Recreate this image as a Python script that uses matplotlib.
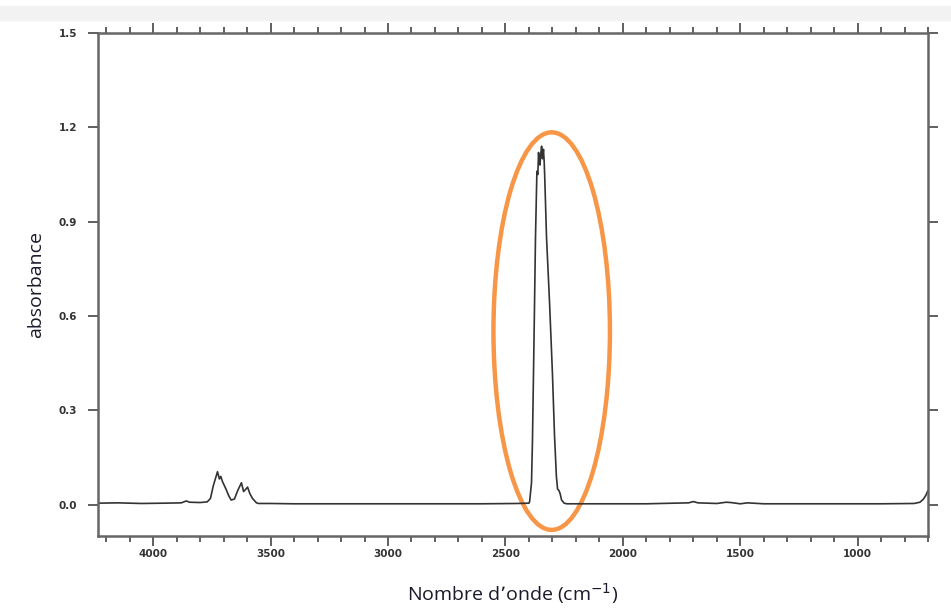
import matplotlib
matplotlib.use('Agg')
import matplotlib.pyplot as plt
from matplotlib.patches import Ellipse, Rectangle
from matplotlib.ticker import MultipleLocator

# spectre IR (nombre d'onde en cm-1, absorbance)
wavenumber = [4235, 4150, 4050, 3950, 3880, 3859, 3845, 3800, 3770, 3756,
              3744, 3726, 3718, 3712, 3705, 3690, 3679, 3668, 3654, 3640,
              3624, 3615, 3607, 3598, 3588, 3577, 3560, 3551, 3500, 3400,
              3000, 2600, 2450, 2400, 2397, 2389, 2385, 2378, 2372, 2366,
              2362, 2359, 2356, 2353, 2349, 2346, 2342, 2338, 2335, 2333,
              2325, 2312, 2300, 2291, 2283, 2278, 2272, 2267, 2261, 2250,
              2239, 2150, 1900, 1720, 1700, 1680, 1600, 1560, 1540, 1500,
              1470, 1400, 1200, 900, 760, 735, 720, 710, 701, 690]
absorbance = [0.005, 0.006, 0.004, 0.005, 0.006, 0.012, 0.008, 0.007, 0.009, 0.02,
              0.06, 0.105, 0.082, 0.09, 0.074, 0.05, 0.03, 0.015, 0.018, 0.045,
              0.07, 0.042, 0.048, 0.056, 0.035, 0.02, 0.006, 0.004, 0.004, 0.003,
              0.003, 0.003, 0.004, 0.005, 0.01, 0.07, 0.2, 0.54, 0.85, 1.06,
              1.05, 1.12, 1.09, 1.08, 1.12, 1.14, 1.10, 1.13, 1.09, 1.05,
              0.85, 0.64, 0.42, 0.22, 0.09, 0.05, 0.045, 0.035, 0.015, 0.005,
              0.003, 0.003, 0.003, 0.006, 0.01, 0.006, 0.004, 0.008, 0.007, 0.003,
              0.006, 0.003, 0.003, 0.003, 0.004, 0.008, 0.018, 0.03, 0.045, 0.05]

x_major = [4000, 3500, 3000, 2500, 2000, 1500, 1000]
y_major = [0.0, 0.3, 0.6, 0.9, 1.2, 1.5]

fig = plt.figure(figsize=(9.51, 6.10), dpi=100)
fig.patches.append(Rectangle((0, 0.968), 1, 0.022, transform=fig.transFigure,
                             color='#f2f2f2', zorder=0))
ax = fig.add_axes([0.103, 0.121, 0.873, 0.825])

ax.plot(wavenumber, absorbance, color='#333333', linewidth=1.2)

ax.set_xlim(4235, 700)
ax.set_ylim(-0.1, 1.5)
ax.set_xticks(x_major)
ax.set_yticks(y_major)
ax.set_yticklabels([f'{v:.1f}' for v in y_major])
ax.xaxis.set_minor_locator(MultipleLocator(100))

for s in ax.spines.values():
    s.set_color('#666666')
    s.set_linewidth(1.8)

ax.tick_params(which='both', direction='out', top=True, right=True,
               color='#444444', width=1.2, labelsize=7.5, labelcolor='#333333')
ax.tick_params(which='major', length=7)
ax.tick_params(which='minor', length=4)
ax.tick_params(axis='y', pad=8)
ax.tick_params(axis='x', pad=2)
for lab in ax.get_xticklabels() + ax.get_yticklabels():
    lab.set_fontweight('bold')

# ellipse orange autour du pic du CO2
ax.add_patch(Ellipse((2303, 0.552), 496, 1.264, fill=False,
                     edgecolor='#f79646', linewidth=3.2, clip_on=False))

ax.set_xlabel("Nombre d\u2019onde (cm$^{-1}$)", fontsize=14, family='Open Sans',
              color='#1a1a2a', labelpad=16)
ax.set_ylabel('absorbance', fontsize=14, family='Open Sans',
              color='#1a1a2a', labelpad=10)

fig.savefig('out.png', dpi=100)
